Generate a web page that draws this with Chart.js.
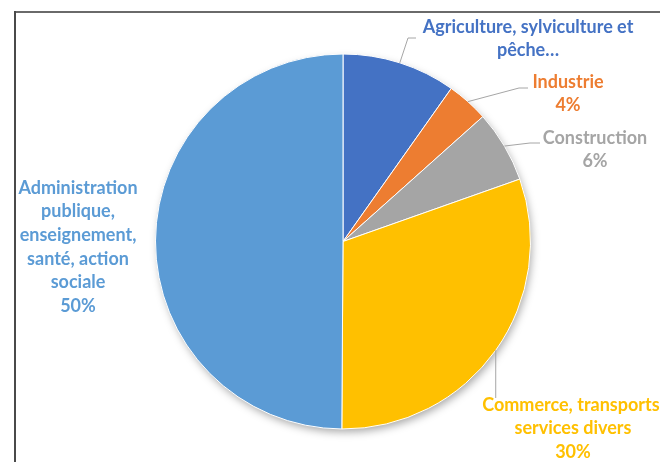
<!DOCTYPE html>
<html><head><meta charset="utf-8">
<style>html,body{margin:0;padding:0;background:#fff;overflow:hidden}canvas{display:block}</style>
<script src="https://cdn.jsdelivr.net/npm/chart.js@4.4.0/dist/chart.umd.min.js"></script>
</head><body><canvas id="c" width="660" height="462"></canvas>
<script>
const categories = ["Agriculture, sylviculture et pêche…", "Industrie", "Construction", "Commerce, transports, services divers", "Administration publique, enseignement, santé, action sociale"];
const values = [9.8, 3.6, 6.2, 30.5, 49.9];
const labelLines = [
  ["Agriculture, sylviculture et", "pêche…"],
  ["Industrie", "4%"],
  ["Construction", "6%"],
  ["Commerce, transports,", "services divers", "30%"],
  ["Administration", "publique,", "enseignement,", "santé, action", "sociale", "50%"]
];
const sliceColors = ["#4472C4", "#ED7D31", "#A5A5A5", "#FFC000", "#5B9BD5"];

// label layout (positions only)
const labelLayout = [
  {cx: 528, y0: 27, leader: [[408, 38], [416, 38]]},
  {cx: 568, y0: 82, leader: [[519, 88], [528, 88]]},
  {cx: 595, y0: 138, leader: [[530, 143], [540, 143]]},
  {cx: 573, y0: 405, leader: [["same", 398]]},
  {cx: 78, y0: 188, leader: null}
];
const FONT = 'bold 18px Lato';
const LINE_H = 23.6;

const framePlugin = {
  id: 'frame',
  beforeDraw(chart) {
    const ctx = chart.ctx;
    ctx.save();
    ctx.fillStyle = '#fff';
    ctx.fillRect(0, 0, chart.width, chart.height);
    ctx.lineWidth = 2;
    ctx.strokeStyle = '#6a6a6a';
    ctx.beginPath(); ctx.moveTo(14, 12); ctx.lineTo(chart.width, 12); ctx.stroke();
    ctx.strokeStyle = '#4a4a4a';
    ctx.beginPath(); ctx.moveTo(15, 11); ctx.lineTo(15, chart.height); ctx.stroke();
    ctx.restore();
  },
  beforeDatasetsDraw(chart) {
    const arc = chart.getDatasetMeta(0).data[0];
    if (!arc) return;
    const ctx = chart.ctx;
    ctx.save();
    ctx.shadowColor = 'rgba(0,0,0,0.35)';
    ctx.shadowBlur = 9;
    ctx.shadowOffsetX = 2;
    ctx.shadowOffsetY = 4;
    ctx.fillStyle = '#fff';
    ctx.beginPath();
    ctx.arc(arc.x, arc.y, arc.outerRadius - 1, 0, Math.PI * 2);
    ctx.fill();
    ctx.restore();
  },
  afterDatasetsDraw(chart) {
    const ctx = chart.ctx;
    const meta = chart.getDatasetMeta(0);
    ctx.save();
    meta.data.forEach((arc, i) => {
      const lay = labelLayout[i];
      if (lay.leader) {
        const mid = (arc.startAngle + arc.endAngle) / 2;
        const sx = arc.x + Math.cos(mid) * arc.outerRadius;
        const sy = arc.y + Math.sin(mid) * arc.outerRadius;
        ctx.strokeStyle = '#a6a6a6';
        ctx.lineWidth = 1;
        ctx.beginPath();
        ctx.moveTo(sx, sy);
        lay.leader.forEach(p => ctx.lineTo(p[0] === 'same' ? sx : p[0], p[1]));
        ctx.stroke();
      }
      ctx.fillStyle = sliceColors[i];
      ctx.font = FONT;
      ctx.textAlign = 'center';
      ctx.textBaseline = 'middle';
      labelLines[i].forEach((t, k) => ctx.fillText(t, lay.cx, lay.y0 + k * LINE_H));
    });
    ctx.restore();
  }
};

new Chart(document.getElementById('c'), {
  type: 'pie',
  data: {
    labels: categories,
    datasets: [{
      data: values,
      backgroundColor: sliceColors,
      borderColor: '#ffffff',
      borderWidth: 1,
      hoverOffset: 0
    }]
  },
  options: {
    responsive: false,
    animation: false,
    devicePixelRatio: 1,
    layout: {padding: {top: 53, bottom: 32, left: 155, right: 129}},
    plugins: {legend: {display: false}, tooltip: {enabled: false}}
  },
  plugins: [framePlugin]
});
</script></body></html>
